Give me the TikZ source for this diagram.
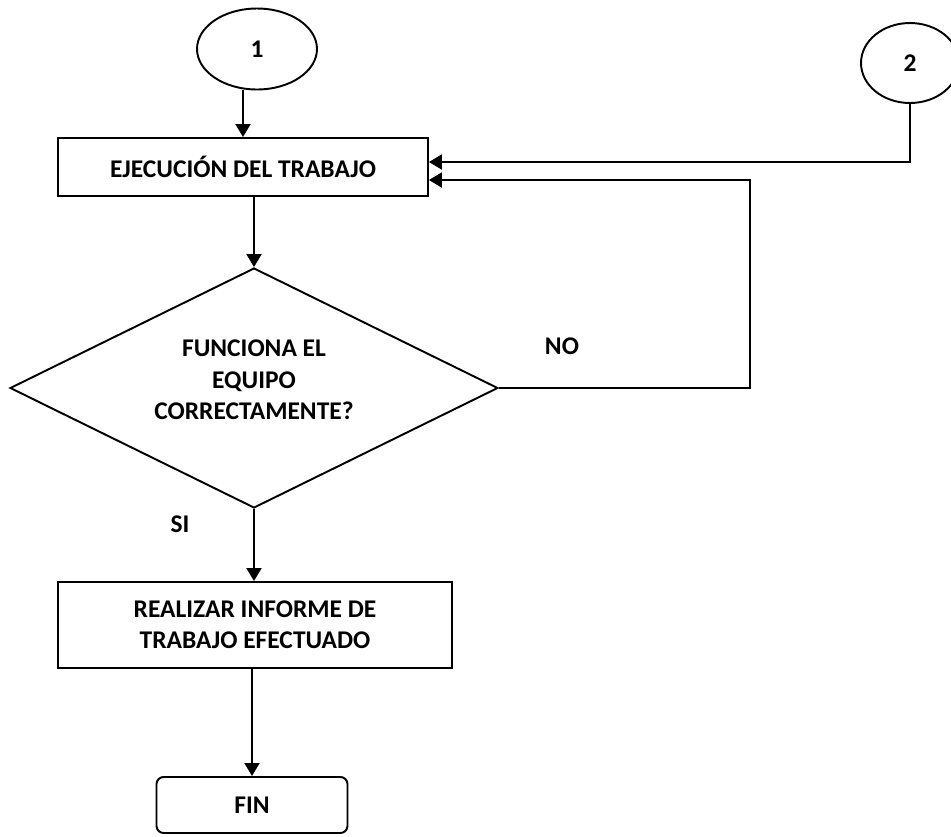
\documentclass[tikz,border=0pt]{standalone}
\usepackage{fontspec}
\setmainfont{Carlito}
\usetikzlibrary{shapes.geometric,arrows.meta}
\newcommand{\flowfont}{\bfseries\fontsize{14.5}{17.8}\selectfont}
\tikzset{
	proc/.style={rectangle,draw,line width=1.1pt,align=center,font=\flowfont},
	conn/.style={ellipse,draw,line width=1.1pt,font=\flowfont},
	decision/.style={diamond,draw,line width=1.1pt,inner sep=0pt,aspect=2,font=\flowfont,minimum width=9.76cm,minimum height=4.8cm},
	lbl/.style={font=\flowfont},
	arr/.style={-{Triangle[length=0.26cm,width=0.3cm]},line width=1.1pt}
}
\begin{document}
\begin{tikzpicture}[x=0.02cm,y=-0.02cm]
		\useasboundingbox (0,0) rectangle (951,836);
		\node [conn,minimum width=2.4cm,minimum height=1.62cm] at (257,49) (one) {1};
		\node [conn,minimum width=1.96cm,minimum height=1.6cm] at (910,63) (two) {2};
		\node [proc,minimum width=7.4cm,minimum height=1.16cm] at (243,167) (ejec) {EJECUCIÓN DEL TRABAJO};
		\node [decision] at (254,388) (dec) {\raisebox{0.12cm}[\height][\depth]{\begin{tabular}{@{}c@{}}FUNCIONA EL\\EQUIPO\\CORRECTAMENTE?\end{tabular}}};
		\node [proc,minimum width=7.88cm,minimum height=1.72cm] at (255,625) (inf) {REALIZAR INFORME DE\\TRABAJO EFECTUADO};
		\node [proc,rounded corners=4pt,minimum width=3.82cm,minimum height=1.12cm] at (252,805) (fin) {FIN};
		\node [lbl] at (562,346) (no) {NO};
		\node [lbl] at (180,524) (si) {SI};
		\draw [arr] (one.south -| ejec.north) -- (ejec.north);
		\draw [arr] (ejec.south -| dec.north) -- (dec.north);
		\draw [arr] (dec.south) -- (inf.north -| dec.south);
		\draw [arr] (inf.south -| fin.north) -- (fin.north);
		\draw [arr] (two.south) |- ([yshift=0.1cm]ejec.east);
		\draw [arr] (dec.east) -- ++(251,0) |- ([yshift=-0.26cm]ejec.east);
	\end{tikzpicture}
\end{document}
